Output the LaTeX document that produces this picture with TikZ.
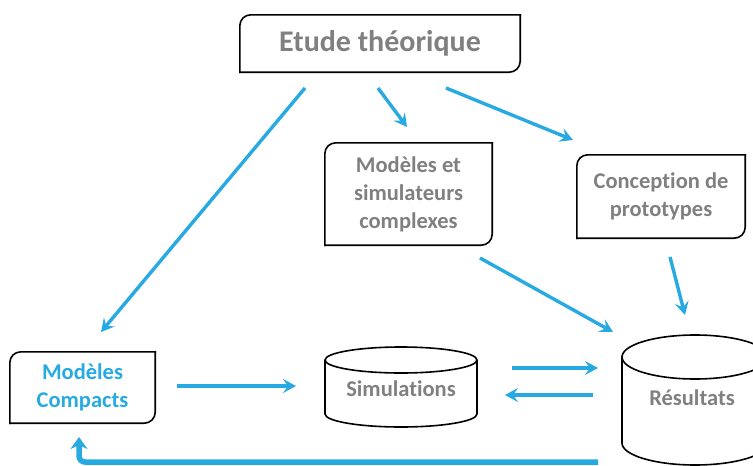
\documentclass[tikz,border=0pt]{standalone}
\usepackage{fontspec}
\setmainfont{Carlito}[Ligatures=NoCommon]
\usetikzlibrary{arrows.meta}
\definecolor{flowblue}{RGB}{39,169,225}
\definecolor{labelgray}{RGB}{128,128,128}
\tikzset{
	boxline/.style={line width=1.6pt, line cap=rect, rounded corners=11pt},
	boxtext/.style={font=\bfseries\fontsize{22.5}{28}\selectfont, text=labelgray, align=center, inner sep=0pt},
	flow/.style={draw=flowblue, line width=3.4pt, -{Stealth[length=13pt,width=14pt,inset=5pt]}}
}
% box with two rounded corners (top left, bottom right)
\def\snipbox#1{\draw[boxline] (#1.south west) -- (#1.north west) -- (#1.north east);
	\draw[boxline] (#1.north east) -- (#1.south east) -- (#1.south west);}
% upright drum: centre x, top y, bottom y, x radius, y radius
\def\drum(#1:#2:#3:#4:#5){\draw[line width=1.6pt] (#1,#2) ellipse ({#4} and {#5});
	\draw[line width=1.6pt] ({#1-#4},#2) -- ({#1-#4},#3) arc[start angle=180, end angle=0, x radius=#4, y radius=#5] -- ({#1+#4},#2);}

\begin{document}
\begin{tikzpicture}[x=1pt,y=-1pt]
			%%%%% START %%%%%
			\useasboundingbox (0,0) rectangle (753,466);
			\clip (0,0) rectangle (753,466);
			
			\node[boxtext, minimum width=280pt, minimum height=57pt, font=\bfseries\fontsize{30}{34}\selectfont] (etude) at (380, 43.5) {Etude théorique};
			\snipbox{etude}
			
			\node[boxtext, minimum width=167pt, minimum height=102pt] (complexes) at (408.5, 194) {Modèles et\\simulateurs\\complexes};
			\snipbox{complexes}
			
			\node[boxtext, minimum width=168pt, minimum height=83pt] (proto) at (661, 196.5) {Conception de\\prototypes};
			\snipbox{proto}
			
			\node[boxtext, text=flowblue, minimum width=145pt, minimum height=71pt] (compacts) at (82.5, 387.5) {Modèles\\Compacts};
			\snipbox{compacts}
			
			\drum(401:360:414:76:13)
			\node[boxtext] (sim) at (401, 389) {Simulations};
			
			\drum(695:357:443:73:22)
			\node[boxtext] (res) at (692, 398) {Résultats};
			
			\coordinate (e1) at (305, 88);
			\coordinate (e2) at (378, 88);
			\coordinate (e3) at (446, 88);
			\coordinate (c1) at (101, 332);
			\coordinate (m1) at (407, 127);
			\coordinate (p1) at (573, 140);
			\coordinate (m2) at (480, 258);
			\coordinate (r1) at (613, 332);
			\coordinate (p2) at (670, 257);
			\coordinate (r2) at (685, 315);
			\coordinate (c2) at (177, 386);
			\coordinate (s1) at (296, 386);
			\coordinate (s2) at (512, 368);
			\coordinate (r3) at (598, 368);
			\coordinate (r4) at (593, 395);
			\coordinate (s3) at (505, 395);
			\coordinate (r5) at (598, 462);
			\coordinate (c3) at (79, 437);
			
			\draw[flow] (e1) -- (c1);
			\draw[flow] (e2) -- (m1);
			\draw[flow] (e3) -- (p1);
			\draw[flow] (m2) -- (r1);
			\draw[flow] (p2) -- (r2);
			\draw[flow] (c2) -- (s1);
			\draw[flow] (s2) -- (r3);
			\draw[flow] (r4) -- (s3);
			\draw[flow, line width=5.5pt, rounded corners=6pt, -{Stealth[length=12pt,width=17pt,inset=4pt]}] (r5) -| (c3);
			
			%%%%% END %%%%%
\end{tikzpicture}
\end{document}
